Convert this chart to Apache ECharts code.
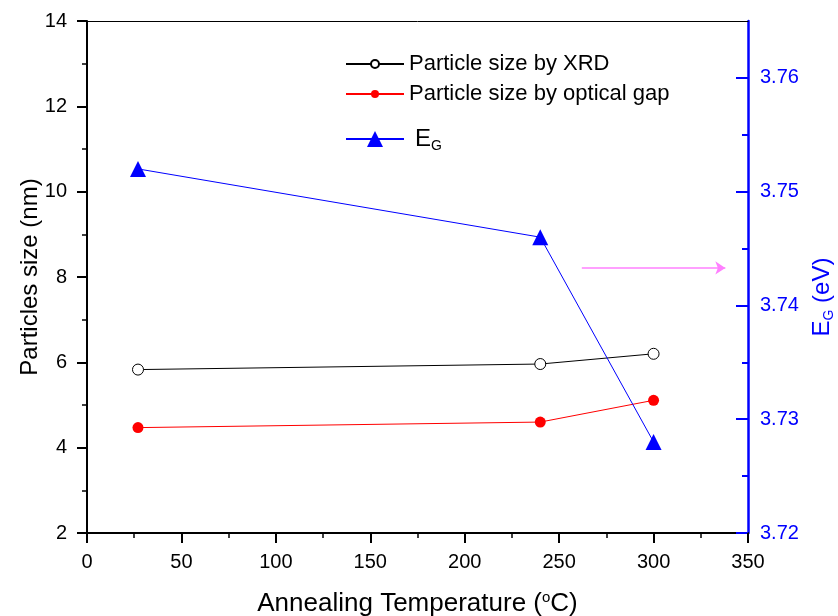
<!DOCTYPE html>
<html>
<head>
<meta charset="utf-8">
<script src="https://cdn.jsdelivr.net/npm/echarts@6/dist/echarts.min.js"></script>
<style>html,body{margin:0;padding:0;background:#fff}#c{width:838px;height:616px}</style>
</head>
<body>
<div id="c"></div>
<script>
const temps = [27, 240, 300];
const xrdSize = [5.83, 5.96, 6.2];
const opticalSize = [4.47, 4.6, 5.11];
const bandGap = [3.752, 3.746, 3.728];
const rightTicks = [3.72, 3.73, 3.74, 3.75, 3.76];
const rightMinorTicks = [3.725, 3.735, 3.745, 3.755];
const arrowFrom = [262, 3.7433];
const arrowTo = [338, 3.7433];

const FONT = 'Liberation Sans, Arial, sans-serif';
const chart = echarts.init(document.getElementById('c'));
const pair = (xs, ys) => xs.map((x, i) => [x, ys[i]]);
const GRID = { left: 87, right: 90, top: 21, bottom: 83, containLabel: false, outerBoundsMode: 'none' };

chart.setOption({
  animation: false,
  backgroundColor: '#fff',
  textStyle: { fontFamily: FONT },
  grid: [Object.assign({}, GRID), Object.assign({}, GRID)],
  legend: [
    { data: ['XRD'], left: 340, top: 48, itemWidth: 58, itemHeight: 10,
      formatter: () => 'Particle size by XRD',
      textStyle: { fontSize: 22, color: '#000', fontFamily: FONT } },
    { data: ['Optical'], left: 340, top: 78, itemWidth: 58, itemHeight: 10,
      formatter: () => 'Particle size by optical gap',
      textStyle: { fontSize: 22, color: '#000', fontFamily: FONT } },
    { data: ['EG'], left: 340, top: 122, itemWidth: 58, itemHeight: 20,
      formatter: () => '{e|E}{g|G}',
      textStyle: { fontSize: 24, color: '#000', fontFamily: FONT,
        rich: { e: { fontSize: 24, fontFamily: FONT, padding: [0, 0, 0, 6] },
                g: { fontSize: 14, fontFamily: FONT, padding: [14, 0, 0, 0] } } } }
  ],
  xAxis: [
    { type: 'value', gridIndex: 0, min: 0, max: 350, interval: 50, position: 'bottom',
      name: '{t|Annealing Temperature (}{s|o}{t|C)}', nameLocation: 'middle', nameGap: 57,
      nameTextStyle: { rich: { t: { fontSize: 26, color: '#000', fontFamily: FONT },
                               s: { fontSize: 15, color: '#000', fontFamily: FONT, padding: [0, 0, 13, 0] } } },
      axisLine: { show: true, onZero: false, lineStyle: { color: '#000', width: 2 } },
      axisTick: { show: true, inside: false, length: 10, lineStyle: { width: 2 } },
      minorTick: { show: true, splitNumber: 2, length: 5, lineStyle: { color: '#000', width: 1.5 } },
      axisLabel: { fontSize: 20, color: '#000', margin: 19, fontFamily: FONT },
      splitLine: { show: false } },
    { type: 'value', gridIndex: 0, min: 0, max: 350, position: 'top',
      axisLine: { show: true, onZero: false, lineStyle: { color: '#000', width: 1 } },
      axisTick: { show: false }, axisLabel: { show: false }, splitLine: { show: false } },
    { type: 'value', gridIndex: 1, min: 0, max: 350, show: false }
  ],
  yAxis: [
    { type: 'value', gridIndex: 0, min: 2, max: 14, interval: 2, position: 'left',
      name: 'Particles size (nm)', nameLocation: 'middle', nameGap: 45, nameMoveOverlap: false,
      nameTextStyle: { fontSize: 24, color: '#000', fontFamily: FONT },
      axisLine: { show: true, onZero: false, lineStyle: { color: '#000', width: 2 } },
      axisTick: { show: true, inside: false, length: 10, lineStyle: { width: 2 } },
      minorTick: { show: true, splitNumber: 2, length: 5, lineStyle: { color: '#000', width: 1.5 } },
      axisLabel: { fontSize: 20, color: '#000', margin: 20, fontFamily: FONT },
      splitLine: { show: false } },
    { type: 'value', gridIndex: 0, min: 3.72, max: 3.765, position: 'right',
      name: '{e|E}{g|G}{e| (eV)}', nameLocation: 'middle', nameGap: 60, nameRotate: 90,
      nameTextStyle: { padding: [0, 40, 0, 0],
        rich: { e: { fontSize: 24, color: '#0000ff', fontFamily: FONT },
                g: { fontSize: 14, color: '#0000ff', fontFamily: FONT, padding: [14, 0, 0, 0] } } },
      axisLine: { show: true, onZero: false, lineStyle: { color: '#0000ff', width: 2.5 } },
      axisTick: { show: true, inside: true, length: 12, customValues: rightTicks, lineStyle: { color: '#0000ff', width: 2 } },
      axisLabel: { fontSize: 20, color: '#0000ff', margin: 12, fontFamily: FONT, customValues: rightTicks,
                   formatter: v => v.toFixed(2) },
      splitLine: { show: false } },
    { type: 'value', gridIndex: 1, min: 3.72, max: 3.765, position: 'right',
      axisLine: { show: false, onZero: false },
      axisTick: { show: true, inside: true, length: 6, customValues: rightMinorTicks, lineStyle: { color: '#0000ff', width: 2 } },
      axisLabel: { show: false }, splitLine: { show: false } }
  ],
  series: [
    { name: 'XRD', type: 'line', xAxisIndex: 0, yAxisIndex: 0, data: pair(temps, xrdSize),
      symbol: 'circle', symbolSize: 11,
      itemStyle: { color: '#fff', borderColor: '#000', borderWidth: 1 },
      lineStyle: { color: '#000', width: 1 } },
    { name: 'Optical', type: 'line', xAxisIndex: 0, yAxisIndex: 0, data: pair(temps, opticalSize),
      symbol: 'circle', symbolSize: 11,
      itemStyle: { color: '#ff0000', borderColor: '#ff0000', borderWidth: 0 },
      lineStyle: { color: '#ff0000', width: 1 } },
    { name: 'EG', type: 'line', xAxisIndex: 0, yAxisIndex: 1, data: pair(temps, bandGap),
      symbol: 'triangle', symbolSize: 16,
      itemStyle: { color: '#0000ff' },
      lineStyle: { color: '#0000ff', width: 1 },
      markLine: { silent: true, symbol: ['none', 'arrow'], symbolSize: 10,
        label: { show: false },
        lineStyle: { color: '#ff80ff', width: 1.5, type: 'solid' },
        data: [[{ coord: arrowFrom }, { coord: arrowTo }]] } }
  ]
});
</script>
</body>
</html>
